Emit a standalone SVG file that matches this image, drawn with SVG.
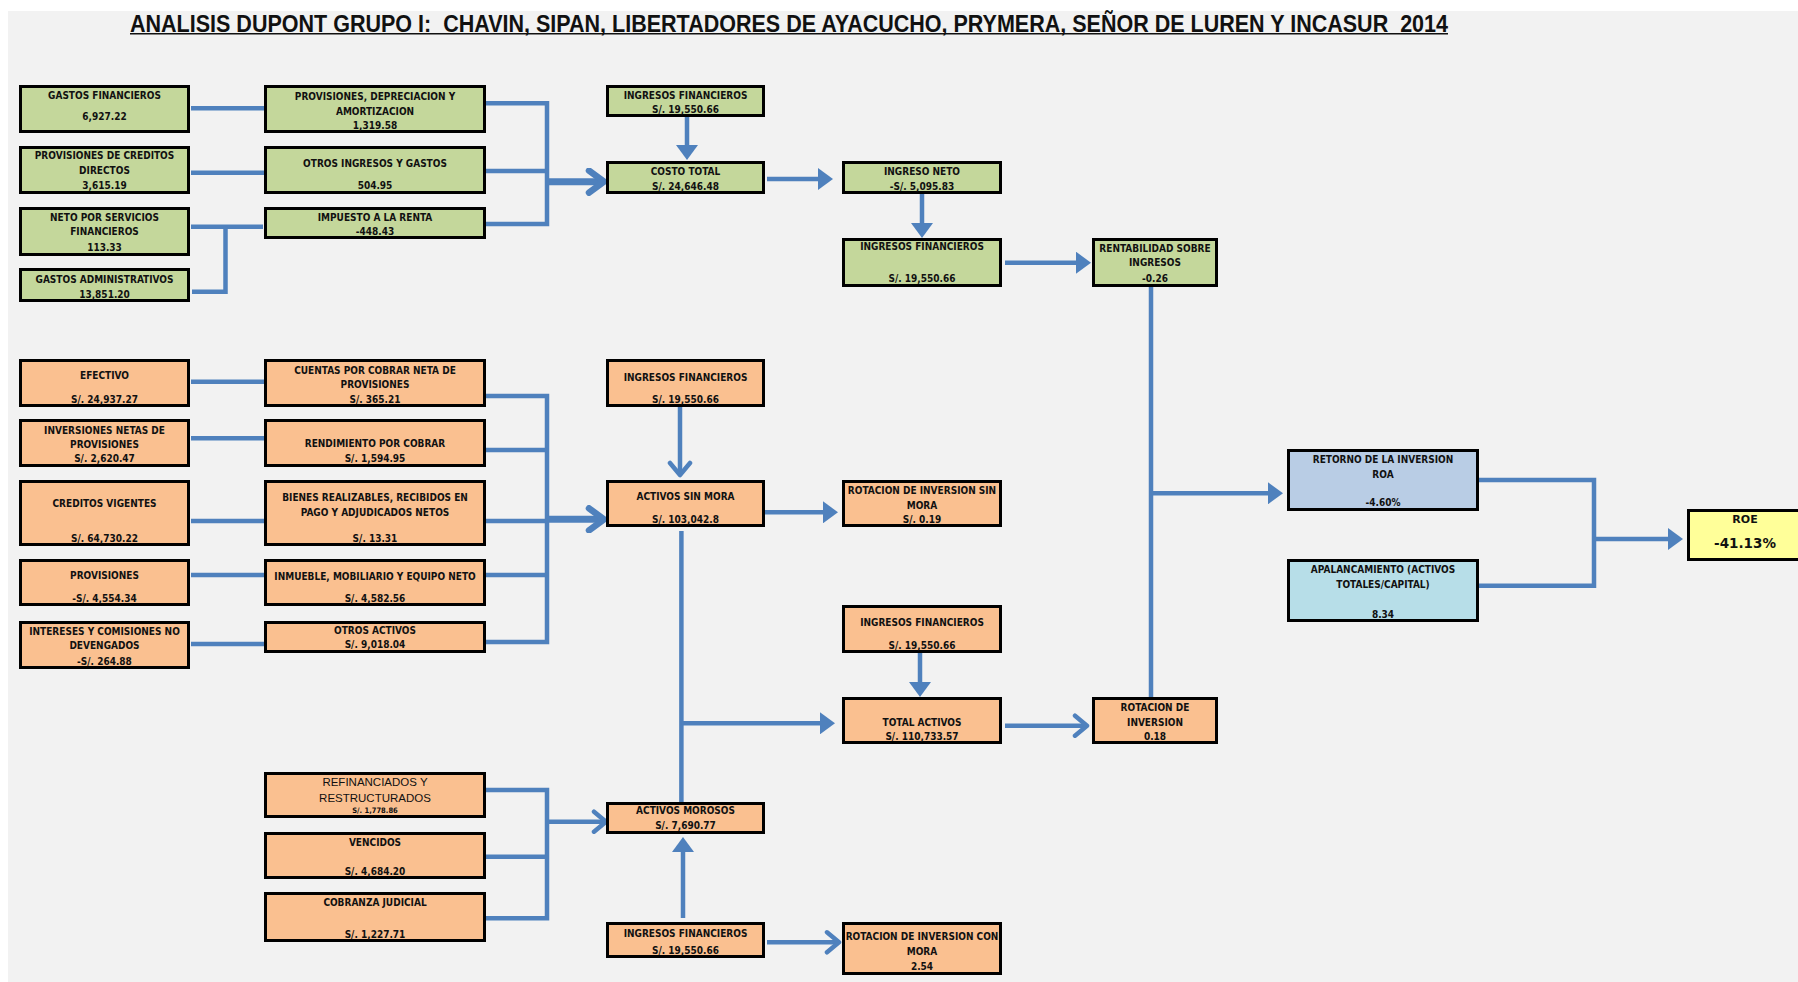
<svg xmlns="http://www.w3.org/2000/svg" width="1798" height="982" viewBox="0 0 1798 982">
  <defs>
    <style>
      .bg { fill: #f2f2f2; }
      .box { stroke: #000; stroke-width: 3; }
      .g { fill: #c4d79b; }
      .o { fill: #fac090; }
      .b1 { fill: #b9cde5; }
      .b2 { fill: #b7dee8; }
      .y { fill: #ffff99; }
      .t { font-family: "DejaVu Sans Condensed", "Liberation Sans", sans-serif; font-weight: bold; font-size: 10px; text-anchor: middle; fill: #111; }
      .ta { font-family: "Liberation Sans", Arial, sans-serif; font-size: 11.5px; text-anchor: middle; fill: #111; }
      .ts { font-family: "DejaVu Sans Condensed", "Liberation Sans", sans-serif; font-weight: bold; font-size: 7.5px; text-anchor: middle; fill: #111; }
      .roe1 { font-family: "DejaVu Sans", "Liberation Sans", sans-serif; font-weight: bold; font-size: 11px; text-anchor: middle; fill: #111; }
      .roe2 { font-family: "DejaVu Sans", "Liberation Sans", sans-serif; font-weight: bold; font-size: 13.5px; text-anchor: middle; fill: #111; }
      .title { font-family: "Liberation Sans", Arial, sans-serif; font-weight: bold; font-size: 23px; fill: #111; white-space: pre; }
      .c { fill: none; stroke: #4f81bd; stroke-width: 4.5; }
      .k { fill: none; stroke: #4f81bd; stroke-width: 7; }
    </style>
    <!-- solid triangular head -->
    <marker id="tri" markerUnits="userSpaceOnUse" viewBox="0 0 15 22" markerWidth="15" markerHeight="22" refX="11" refY="11" orient="auto">
      <path d="M0,0 L15,11 L0,22 Z" fill="#4f81bd"/>
    </marker>
    <!-- open chevron head -->
    <marker id="chev" markerUnits="userSpaceOnUse" viewBox="0 0 18 26" markerWidth="18" markerHeight="26" refX="13" refY="13" orient="auto">
      <path d="M3,3 L15,13 L3,23" fill="none" stroke="#4f81bd" stroke-width="4.5" stroke-linecap="round" stroke-linejoin="round"/>
    </marker>
    <marker id="chevBig" markerUnits="userSpaceOnUse" viewBox="0 0 24 28" markerWidth="24" markerHeight="28" refX="17" refY="14" orient="auto">
      <path d="M4,3 L19,14 L4,25" fill="none" stroke="#4f81bd" stroke-width="6.5" stroke-linecap="round" stroke-linejoin="round"/>
    </marker>
  </defs>

  <rect x="0" y="0" width="1798" height="982" fill="#ffffff"/>
  <rect class="bg" x="8" y="11" width="1790" height="971"/>

  <!-- heading -->
  <text class="title" x="130" y="31.5" textLength="1318" lengthAdjust="spacingAndGlyphs" xml:space="preserve">ANALISIS DUPONT GRUPO I:  CHAVIN, SIPAN, LIBERTADORES DE AYACUCHO, PRYMERA, SEÑOR DE LUREN Y INCASUR  2014</text>
  <line x1="130" y1="33.8" x2="1448" y2="33.8" stroke="#111" stroke-width="1.5"/>

  <g id="connectors">
    <!-- cost branch -->
    <path class="c" d="M191,108.3 H264"/>
    <path class="c" d="M191,172.7 H264"/>
    <path class="c" d="M191,226.7 H263"/>
    <path class="c" d="M192,291.7 H225.5 V226.7"/>
    <path class="c" d="M486,103.3 H547 V224 H486"/>
    <path class="c" d="M486,171 H547"/>
    <path class="k" d="M547,181.7 H602" marker-end="url(#chevBig)"/>
    <path class="c" d="M687,117 V156" marker-end="url(#tri)"/>
    <path class="c" d="M767,179 H829" marker-end="url(#tri)"/>
    <path class="c" d="M922,194 V234" marker-end="url(#tri)"/>
    <path class="c" d="M1005,262.7 H1087" marker-end="url(#tri)"/>
    <path class="c" d="M1151,287 V697"/>
    <path class="c" d="M1151,493.3 H1279" marker-end="url(#tri)"/>

    <!-- asset branch -->
    <path class="c" d="M191,381.7 H264"/>
    <path class="c" d="M191,438.3 H264"/>
    <path class="c" d="M191,521 H264"/>
    <path class="c" d="M191,575 H264"/>
    <path class="c" d="M191,644 H264"/>
    <path class="c" d="M486,396 H547 V642 H486"/>
    <path class="c" d="M486,450 H547"/>
    <path class="c" d="M486,521 H547"/>
    <path class="c" d="M486,575 H547"/>
    <path class="k" d="M547,519.3 H602" marker-end="url(#chevBig)"/>
    <path class="c" d="M680,407 V473" marker-end="url(#chev)"/>
    <path class="c" d="M765,512.3 H834" marker-end="url(#tri)"/>
    <path class="c" d="M681.4,531 V802"/>
    <path class="c" d="M681.4,723.3 H831" marker-end="url(#tri)"/>
    <path class="c" d="M920,653 V693" marker-end="url(#tri)"/>
    <path class="c" d="M1005,725.7 H1085" marker-end="url(#chev)"/>

    <!-- overdue branch -->
    <path class="c" d="M486,790 H547 V918.3 H486"/>
    <path class="c" d="M486,856.7 H547"/>
    <path class="c" d="M547,821.7 H604" marker-end="url(#chev)"/>
    <path class="c" d="M683,918 V841" marker-end="url(#tri)"/>
    <path class="c" d="M767,942.3 H837" marker-end="url(#chev)"/>

    <!-- return on equity -->
    <path class="c" d="M1479,480 H1594 V585.7 H1479"/>
    <path class="c" d="M1594,539 H1679" marker-end="url(#tri)"/>
  </g>

  <!-- cost side (green) -->
  <g id="gastos-financieros">
    <rect class="box g" x="20.5" y="86.5" width="168" height="45"/>
    <text class="t" x="104.5" y="99.3">GASTOS FINANCIEROS</text>
    <text class="t" x="104.5" y="120.3">6,927.22</text>
  </g>
  <g id="provisiones-depreciacion">
    <rect class="box g" x="265.5" y="86.5" width="219" height="45"/>
    <text class="t" x="375" y="100.3">PROVISIONES, DEPRECIACION Y</text>
    <text class="t" x="375" y="115.3">AMORTIZACION</text>
    <text class="t" x="375" y="129.3">1,319.58</text>
  </g>
  <g id="provisiones-creditos">
    <rect class="box g" x="20.5" y="147.5" width="168" height="45"/>
    <text class="t" x="104.5" y="159.3">PROVISIONES DE CREDITOS</text>
    <text class="t" x="104.5" y="174">DIRECTOS</text>
    <text class="t" x="104.5" y="189">3,615.19</text>
  </g>
  <g id="otros-ingresos-gastos">
    <rect class="box g" x="265.5" y="147.5" width="219" height="45"/>
    <text class="t" x="375" y="167">OTROS INGRESOS Y GASTOS</text>
    <text class="t" x="375" y="189">504.95</text>
  </g>
  <g id="neto-servicios">
    <rect class="box g" x="20.5" y="208.5" width="168" height="46"/>
    <text class="t" x="104.5" y="221">NETO POR SERVICIOS</text>
    <text class="t" x="104.5" y="235.3">FINANCIEROS</text>
    <text class="t" x="104.5" y="251">113.33</text>
  </g>
  <g id="impuesto-renta">
    <rect class="box g" x="265.5" y="208.5" width="219" height="29"/>
    <text class="t" x="375" y="221">IMPUESTO A LA RENTA</text>
    <text class="t" x="375" y="234.7">-448.43</text>
  </g>
  <g id="gastos-administrativos">
    <rect class="box g" x="20.5" y="269.5" width="168" height="31"/>
    <text class="t" x="104.5" y="282.7">GASTOS ADMINISTRATIVOS</text>
    <text class="t" x="104.5" y="298">13,851.20</text>
  </g>
  <g id="ingresos-financieros-1">
    <rect class="box g" x="607.5" y="86.5" width="156" height="29"/>
    <text class="t" x="685.5" y="99.3">INGRESOS FINANCIEROS</text>
    <text class="t" x="685.5" y="113">S/. 19,550.66</text>
  </g>
  <g id="costo-total">
    <rect class="box g" x="607.5" y="162.5" width="156" height="30"/>
    <text class="t" x="685.5" y="175.3">COSTO TOTAL</text>
    <text class="t" x="685.5" y="189.7">S/. 24,646.48</text>
  </g>
  <g id="ingreso-neto">
    <rect class="box g" x="843.5" y="162.5" width="157" height="30"/>
    <text class="t" x="922" y="175.3">INGRESO NETO</text>
    <text class="t" x="922" y="189.7">-S/. 5,095.83</text>
  </g>
  <g id="ingresos-financieros-2">
    <rect class="box g" x="843.5" y="239.5" width="157" height="46"/>
    <text class="t" x="922" y="250.3">INGRESOS FINANCIEROS</text>
    <text class="t" x="922" y="282">S/. 19,550.66</text>
  </g>
  <g id="rentabilidad-ingresos">
    <rect class="box g" x="1093.5" y="239.5" width="123" height="46"/>
    <text class="t" x="1155" y="252">RENTABILIDAD SOBRE</text>
    <text class="t" x="1155" y="266.3">INGRESOS</text>
    <text class="t" x="1155" y="282">-0.26</text>
  </g>

  <!-- asset side (orange) -->
  <g id="efectivo">
    <rect class="box o" x="20.5" y="360.5" width="168" height="45"/>
    <text class="t" x="104.5" y="379.3">EFECTIVO</text>
    <text class="t" x="104.5" y="402.7">S/. 24,937.27</text>
  </g>
  <g id="cuentas-por-cobrar">
    <rect class="box o" x="265.5" y="360.5" width="219" height="45"/>
    <text class="t" x="375" y="373.7">CUENTAS POR COBRAR NETA DE</text>
    <text class="t" x="375" y="388">PROVISIONES</text>
    <text class="t" x="375" y="402.7">S/. 365.21</text>
  </g>
  <g id="inversiones-netas">
    <rect class="box o" x="20.5" y="420.5" width="168" height="45"/>
    <text class="t" x="104.5" y="433.7">INVERSIONES NETAS DE</text>
    <text class="t" x="104.5" y="448">PROVISIONES</text>
    <text class="t" x="104.5" y="462">S/. 2,620.47</text>
  </g>
  <g id="rendimiento-por-cobrar">
    <rect class="box o" x="265.5" y="420.5" width="219" height="45"/>
    <text class="t" x="375" y="447">RENDIMIENTO POR COBRAR</text>
    <text class="t" x="375" y="462">S/. 1,594.95</text>
  </g>
  <g id="creditos-vigentes">
    <rect class="box o" x="20.5" y="481.5" width="168" height="63"/>
    <text class="t" x="104.5" y="507">CREDITOS VIGENTES</text>
    <text class="t" x="104.5" y="542">S/. 64,730.22</text>
  </g>
  <g id="bienes-realizables">
    <rect class="box o" x="265.5" y="481.5" width="219" height="63"/>
    <text class="t" x="375" y="501.3">BIENES REALIZABLES, RECIBIDOS EN</text>
    <text class="t" x="375" y="516">PAGO Y ADJUDICADOS NETOS</text>
    <text class="t" x="375" y="542">S/. 13.31</text>
  </g>
  <g id="provisiones">
    <rect class="box o" x="20.5" y="560.5" width="168" height="44"/>
    <text class="t" x="104.5" y="578.7">PROVISIONES</text>
    <text class="t" x="104.5" y="602">-S/. 4,554.34</text>
  </g>
  <g id="inmueble-mobiliario">
    <rect class="box o" x="265.5" y="560.5" width="219" height="44"/>
    <text class="t" x="375" y="580.3">INMUEBLE, MOBILIARIO Y EQUIPO NETO</text>
    <text class="t" x="375" y="602">S/. 4,582.56</text>
  </g>
  <g id="intereses-comisiones">
    <rect class="box o" x="20.5" y="622.5" width="168" height="45"/>
    <text class="t" x="104.5" y="634.7">INTERESES Y COMISIONES NO</text>
    <text class="t" x="104.5" y="649.3">DEVENGADOS</text>
    <text class="t" x="104.5" y="664.7">-S/. 264.88</text>
  </g>
  <g id="otros-activos">
    <rect class="box o" x="265.5" y="622.5" width="219" height="29"/>
    <text class="t" x="375" y="633.7">OTROS ACTIVOS</text>
    <text class="t" x="375" y="648">S/. 9,018.04</text>
  </g>
  <g id="ingresos-financieros-3">
    <rect class="box o" x="607.5" y="360.5" width="156" height="45"/>
    <text class="t" x="685.5" y="381">INGRESOS FINANCIEROS</text>
    <text class="t" x="685.5" y="402.7">S/. 19,550.66</text>
  </g>
  <g id="activos-sin-mora">
    <rect class="box o" x="607.5" y="481.5" width="156" height="44"/>
    <text class="t" x="685.5" y="499.7">ACTIVOS SIN MORA</text>
    <text class="t" x="685.5" y="522.7">S/. 103,042.8</text>
  </g>
  <g id="rotacion-sin-mora">
    <rect class="box o" x="843.5" y="481.5" width="157" height="44"/>
    <text class="t" x="922" y="494">ROTACION DE INVERSION SIN</text>
    <text class="t" x="922" y="508.7">MORA</text>
    <text class="t" x="922" y="522.7">S/. 0.19</text>
  </g>
  <g id="ingresos-financieros-4">
    <rect class="box o" x="843.5" y="606.5" width="157" height="45"/>
    <text class="t" x="922" y="626">INGRESOS FINANCIEROS</text>
    <text class="t" x="922" y="648.7">S/. 19,550.66</text>
  </g>
  <g id="total-activos">
    <rect class="box o" x="843.5" y="698.5" width="157" height="44"/>
    <text class="t" x="922" y="726">TOTAL ACTIVOS</text>
    <text class="t" x="922" y="739.7">S/. 110,733.57</text>
  </g>
  <g id="rotacion-inversion">
    <rect class="box o" x="1093.5" y="698.5" width="123" height="44"/>
    <text class="t" x="1155" y="711">ROTACION DE</text>
    <text class="t" x="1155" y="726">INVERSION</text>
    <text class="t" x="1155" y="739.7">0.18</text>
  </g>
  <g id="refinanciados">
    <rect class="box o" x="265.5" y="773.5" width="219" height="43"/>
    <text class="ta" x="375" y="785.8">REFINANCIADOS Y</text>
    <text class="ta" x="375" y="801.8">RESTRUCTURADOS</text>
    <text class="ts" x="375" y="812.7">S/. 1,778.86</text>
  </g>
  <g id="vencidos">
    <rect class="box o" x="265.5" y="833.5" width="219" height="44"/>
    <text class="t" x="375" y="846.3">VENCIDOS</text>
    <text class="t" x="375" y="874.7">S/. 4,684.20</text>
  </g>
  <g id="cobranza-judicial">
    <rect class="box o" x="265.5" y="893.5" width="219" height="47"/>
    <text class="t" x="375" y="906.3">COBRANZA JUDICIAL</text>
    <text class="t" x="375" y="938">S/. 1,227.71</text>
  </g>
  <g id="activos-morosos">
    <rect class="box o" x="607.5" y="803.5" width="156" height="29"/>
    <text class="t" x="685.5" y="813.7">ACTIVOS MOROSOS</text>
    <text class="t" x="685.5" y="829.3">S/. 7,690.77</text>
  </g>
  <g id="ingresos-financieros-5">
    <rect class="box o" x="607.5" y="923.5" width="156" height="33"/>
    <text class="t" x="685.5" y="937">INGRESOS FINANCIEROS</text>
    <text class="t" x="685.5" y="953.7">S/. 19,550.66</text>
  </g>
  <g id="rotacion-con-mora">
    <rect class="box o" x="843.5" y="923.5" width="157" height="50"/>
    <text class="t" x="922" y="940.3">ROTACION DE INVERSION CON</text>
    <text class="t" x="922" y="954.7">MORA</text>
    <text class="t" x="922" y="969.7">2.54</text>
  </g>

  <!-- returns -->
  <g id="roa">
    <rect class="box b1" x="1288.5" y="450.5" width="189" height="59"/>
    <text class="t" x="1383" y="463">RETORNO DE LA INVERSION</text>
    <text class="t" x="1383" y="477.7">ROA</text>
    <text class="t" x="1383" y="506.3">-4.60%</text>
  </g>
  <g id="apalancamiento">
    <rect class="box b2" x="1288.5" y="560.5" width="189" height="60"/>
    <text class="t" x="1383" y="573">APALANCAMIENTO (ACTIVOS</text>
    <text class="t" x="1383" y="587.7">TOTALES/CAPITAL)</text>
    <text class="t" x="1383" y="618">8.34</text>
  </g>
  <g id="roe">
    <rect class="box y" x="1688.5" y="510.5" width="140" height="49"/>
    <text class="roe1" x="1745" y="523.3">ROE</text>
    <text class="roe2" x="1745" y="548.3">-41.13%</text>
  </g>
</svg>
